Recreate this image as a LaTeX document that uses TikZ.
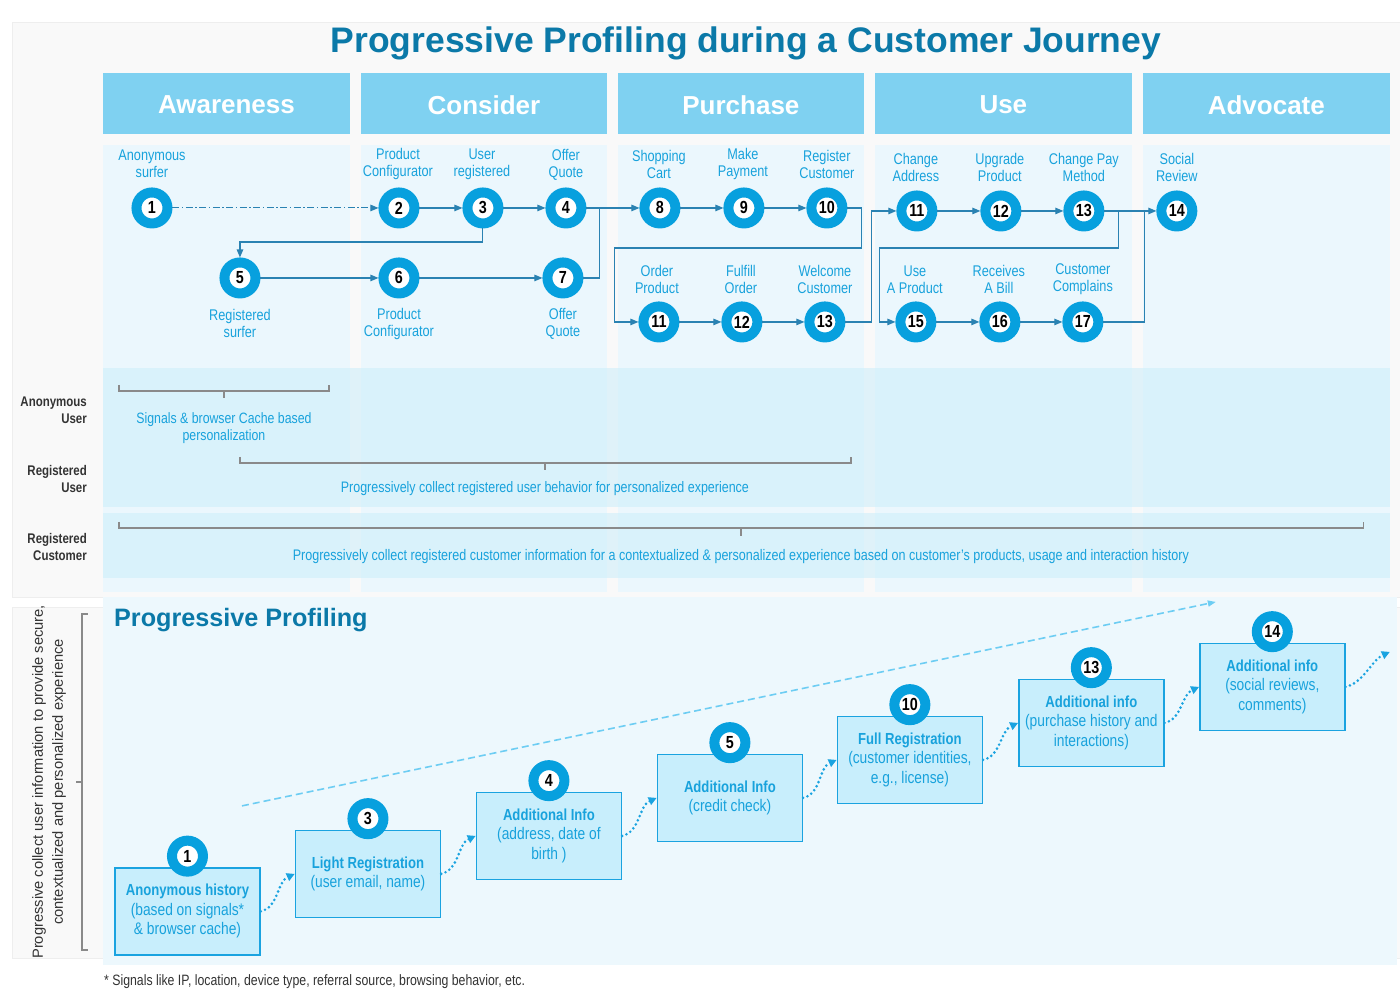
\documentclass[tikz,border=0pt]{standalone}
\usepackage{fontspec}
\setmainfont{Liberation Sans}[FakeStretch=0.82]
\newfontfamily\regfont{Liberation Sans}
\usetikzlibrary{arrows.meta}
\definecolor{titleblue}{HTML}{0B79A8}
\definecolor{hdr}{HTML}{7FD1F1}
\definecolor{colbg}{HTML}{EBF7FD}
\definecolor{bandc}{HTML}{CBEEFA}
\definecolor{panel}{HTML}{F9F9F9}
\definecolor{panelline}{HTML}{EEEEEE}
\definecolor{cblue}{HTML}{07A0DE}
\definecolor{lbl}{HTML}{18A2DC}
\definecolor{connc}{HTML}{2A82B2}
\definecolor{bracec}{HTML}{8A8A8A}
\definecolor{darkt}{HTML}{333333}
\definecolor{boxfill}{HTML}{C8EEFC}
\definecolor{boxdraw}{HTML}{1AA3E0}
\definecolor{lowbg}{HTML}{EDF8FD}
\definecolor{dashc}{HTML}{6DCDF3}
\newcommand\fsz[2]{\fontsize{#1}{#2}\selectfont}
\newcommand\bhead[1]{{\fsz{16}{19.5}\bfseries #1}}
\begin{document}
\begin{tikzpicture}[x=1pt,y=-1pt,
  num/.style={circle, draw=cblue, line width=10pt, fill=white, minimum size=31pt, inner sep=0pt, font=\fsz{17.5}{17}\bfseries, text=black},
  lab/.style={align=center, text=lbl, font=\fsz{15.5}{17}, inner sep=0pt},
  rowlab/.style={align=right, text=darkt, font=\fsz{14}{17}\bfseries, inner sep=0pt, anchor=east},
  hdrtxt/.style={text=white, font=\regfont\fsz{26}{26}\bfseries, inner sep=0pt},
  conn/.style={draw=connc, line width=1.1pt, -{Triangle[length=8pt,width=6.5pt]}},
  connl/.style={draw=connc, line width=1.1pt},
  bracel/.style={draw=bracec, line width=1.3pt},
  bracetxt/.style={text=lbl, align=center, font=\fsz{15}{17}, inner sep=0pt},
  pbox/.style={draw=boxdraw, line width=1.5pt, fill=boxfill, minimum width=145pt, minimum height=87pt, inner sep=0pt, align=center, text=lbl, font=\fsz{16.8}{19.5}},
  dots/.style={draw=boxdraw, line width=2.9pt, dash pattern=on 0pt off 4.6pt, line cap=round, -{Triangle[length=8pt,width=8pt]}},
  dashline/.style={draw=dashc, line width=1.6pt, dash pattern=on 7pt off 4pt, -{Triangle[length=8pt,width=6pt]}}
]
% background
\fill[white] (0,0) rectangle (1400,1000);
\draw[panelline, fill=panel] (12,22) rectangle (1400,597);
\draw[panelline, fill=panel] (12,607) rectangle (1400,958);
\fill[lowbg] (103,597) rectangle (1397,965);

% title
\node[text=titleblue, font=\regfont\fsz{35.5}{36}\bfseries, inner sep=0pt] (title) at (746,43) {Progressive Profiling during a Customer Journey};

% columns and headers
\foreach \a/\b in {103/350, 361/607, 618/864, 875/1132, 1143/1390} {
  \fill[colbg] (\a,145) rectangle (\b,592);
  \fill[hdr] (\a,73) rectangle (\b,134);
}
\node[hdrtxt] (h1) at (226.5,105) {Awareness};
\node[hdrtxt] (h2) at (484,105) {Consider};
\node[hdrtxt] (h3) at (741,105) {Purchase};
\node[hdrtxt] (h4) at (1003.5,105) {Use};
\node[hdrtxt] (h5) at (1266.5,105) {Advocate};

% bands
\fill[bandc, opacity=0.55] (103,368) rectangle (1390,507);
\fill[bandc, opacity=0.55] (103,513) rectangle (1390,578);

% row labels
\node[rowlab] (r1) at (87,410) {Anonymous\\User};
\node[rowlab] (r2) at (87,479) {Registered\\User};
\node[rowlab] (r3) at (87,547) {Registered\\Customer};

% braces
\draw[bracel] (119,385) -- (119,391) -- (329,391) -- (329,385) (224,391) -- (224,398);
\node[bracetxt] (bt1) at (224,428.5) {Signals \& browser Cache based\\personalization};
\draw[bracel] (240,457) -- (240,463) -- (851,463) -- (851,457) (545,463) -- (545,470);
\node[bracetxt, font=\fsz{15.2}{17}] (bt2) at (545,489) {Progressively collect registered user behavior for personalized experience};
\draw[bracel] (119,522) -- (119,528) -- (1364,528) -- (1364,522) (741,528) -- (741,536);
\node[bracetxt, font=\fsz{15.3}{17}] (bt3) at (741,557) {Progressively collect registered customer information for a contextualized \& personalized experience based on customer’s products, usage and interaction history};

% journey labels
\node[lab] (l1) at (152,164) {Anonymous\\surfer};
\node[lab] (l2) at (398,164.5) {Product\\Configurator};
\node[lab] (l3) at (482,164.5) {User\\registered};
\node[lab] (l4) at (566,164.5) {Offer\\Quote};
\node[lab] (l5) at (240,324) {Registered\\surfer};
\node[lab] (l6) at (399,324) {Product\\Configurator};
\node[lab] (l7) at (563,324) {Offer\\Quote};
\node[lab] (l8) at (659,164.5) {Shopping\\Cart};
\node[lab] (l9) at (743,164.5) {Make\\Payment};
\node[lab] (l10) at (827,164.5) {Register\\Customer};
\node[lab] (l11p) at (657,279.5) {Order\\Product};
\node[lab] (l12p) at (741,279.5) {Fulfill\\Order};
\node[lab] (l13p) at (825,279.5) {Welcome\\Customer};
\node[lab] (l11u) at (916,167.5) {Change\\Address};
\node[lab] (l12u) at (1000,167.5) {Upgrade\\Product};
\node[lab] (l13u) at (1084,167.5) {Change Pay\\Method};
\node[lab] (l14) at (1177,167.5) {Social\\Review};
\node[lab] (l15) at (915,279.5) {Use\\A Product};
\node[lab] (l16) at (999,279.5) {Receives\\A Bill};
\node[lab] (l17) at (1083,279.5) {Customer\\Complains};

% journey circles
\node[num] (c1) at (152,208) {1};
\node[num] (c2) at (399,208) {2};
\node[num] (c3) at (483,208) {3};
\node[num] (c4) at (566,208) {4};
\node[num] (c5) at (240,278) {5};
\node[num] (c6) at (399,278) {6};
\node[num] (c7) at (563,278) {7};
\node[num] (c8) at (660,208) {8};
\node[num] (c9) at (744,208) {9};
\node[num] (c10) at (827,208) {10};
\node[num] (c11p) at (659,322) {11};
\node[num] (c12p) at (742,322) {12};
\node[num] (c13p) at (825,322) {13};
\node[num] (c11u) at (917,211) {11};
\node[num] (c12u) at (1001,211) {12};
\node[num] (c13u) at (1084,211) {13};
\node[num] (c14) at (1177,211) {14};
\node[num] (c15) at (916,322) {15};
\node[num] (c16) at (1000,322) {16};
\node[num] (c17) at (1083,322) {17};

% journey connectors
\draw[conn, line width=1pt, dash pattern=on 7pt off 2.5pt on 1.5pt off 2.5pt] (c1) -- (c2);
\draw[conn] (c2) -- (c3);
\draw[conn] (c3) -- (c4);
\draw[conn] (c3.south) -- ++(0,13.5) -| (c5.north);
\draw[conn] (c5) -- (c6);
\draw[conn] (c6) -- (c7);
\draw[conn] (c4) -- (c8);
\draw[connl] (c7.east) -| (600,208);
\draw[conn] (c8) -- (c9);
\draw[conn] (c9) -- (c10);
\draw[conn] (c10.east) -- (862,208) -- (862,248) -- (615,248) |- (c11p.west);
\draw[conn] (c11p) -- (c12p);
\draw[conn] (c12p) -- (c13p);
\draw[conn] (c13p.east) -- (872,322) |- (c11u.west);
\draw[conn] (c11u) -- (c12u);
\draw[conn] (c12u) -- (c13u);
\draw[conn] (c13u) -- (c14);
\draw[conn] (c13u.east) -- (1119,211) -- (1119,248) -- (880,248) |- (c15.west);
\draw[conn] (c15) -- (c16);
\draw[conn] (c16) -- (c17);
\draw[connl] (c17.east) -| (1145,211);

% lower section
\node[text=titleblue, font=\regfont\fsz{25.2}{26}\bfseries, inner sep=0pt, anchor=west] (pp) at (114,620) {Progressive Profiling};
\node[rotate=90, align=center, text=darkt, font=\regfont\fsz{14.7}{20}, inner sep=0pt] (vt) at (49,782) {Progressive collect user information to provide secure,\\contextualized and personalized experience};
\draw[bracel] (88,614) -- (82,614) -- (82,950) -- (88,950) (82,782) -- (76,782);

\coordinate (ds) at (242,806);
\coordinate (de) at (1216,602);
\draw[dashline] (ds) -- (de);

\node[pbox] (b1) at (187.5,911.5) {\bhead{Anonymous history}\\(based on signals*\\\& browser cache)};
\node[pbox] (b3) at (368,874) {\bhead{Light Registration}\\(user email, name)};
\node[pbox] (b4) at (549,836) {\bhead{Additional Info}\\(address, date of\\birth )};
\node[pbox] (b5) at (730,798) {\bhead{Additional Info}\\(credit check)};
\node[pbox] (b10) at (910,760) {\bhead{Full Registration}\\(customer identities,\\e.g., license)};
\node[pbox] (b13) at (1091.5,723) {\bhead{Additional info}\\(purchase history and\\interactions)};
\node[pbox] (b14) at (1272.5,687) {\bhead{Additional info}\\(social reviews,\\comments)};

\node[num] (n1) at ([yshift=11pt]b1.north) {1};
\node[num] (n3) at ([yshift=11pt]b3.north) {3};
\node[num] (n4) at ([yshift=11pt]b4.north) {4};
\node[num] (n5) at ([yshift=11pt]b5.north) {5};
\node[num] (n10) at ([yshift=11pt]b10.north) {10};
\node[num] (n13) at ([yshift=11pt]b13.north) {13};
\node[num] (n14) at ([yshift=11pt]b14.north) {14};

\draw[dots] (b1.east) .. controls +(18,-4) and +(-18,8) .. (b3.west);
\draw[dots] (b3.east) .. controls +(18,-4) and +(-18,8) .. (b4.west);
\draw[dots] (b4.east) .. controls +(18,-4) and +(-18,8) .. (b5.west);
\draw[dots] (b5.east) .. controls +(18,-4) and +(-18,8) .. (b10.west);
\draw[dots] (b10.east) .. controls +(18,-4) and +(-18,8) .. (b13.west);
\draw[dots] (b13.east) .. controls +(18,-4) and +(-18,8) .. (b14.west);
\coordinate (endA) at (1390,652);
\draw[dots] (b14.east) .. controls +(18,-4) and +(-18,8) .. (endA);

\node[text=darkt, font=\fsz{15}{15}, inner sep=0pt, anchor=west] (fn) at (104,982) {* Signals like IP, location, device type, referral source, browsing behavior, etc.};
\end{tikzpicture}
\end{document}
